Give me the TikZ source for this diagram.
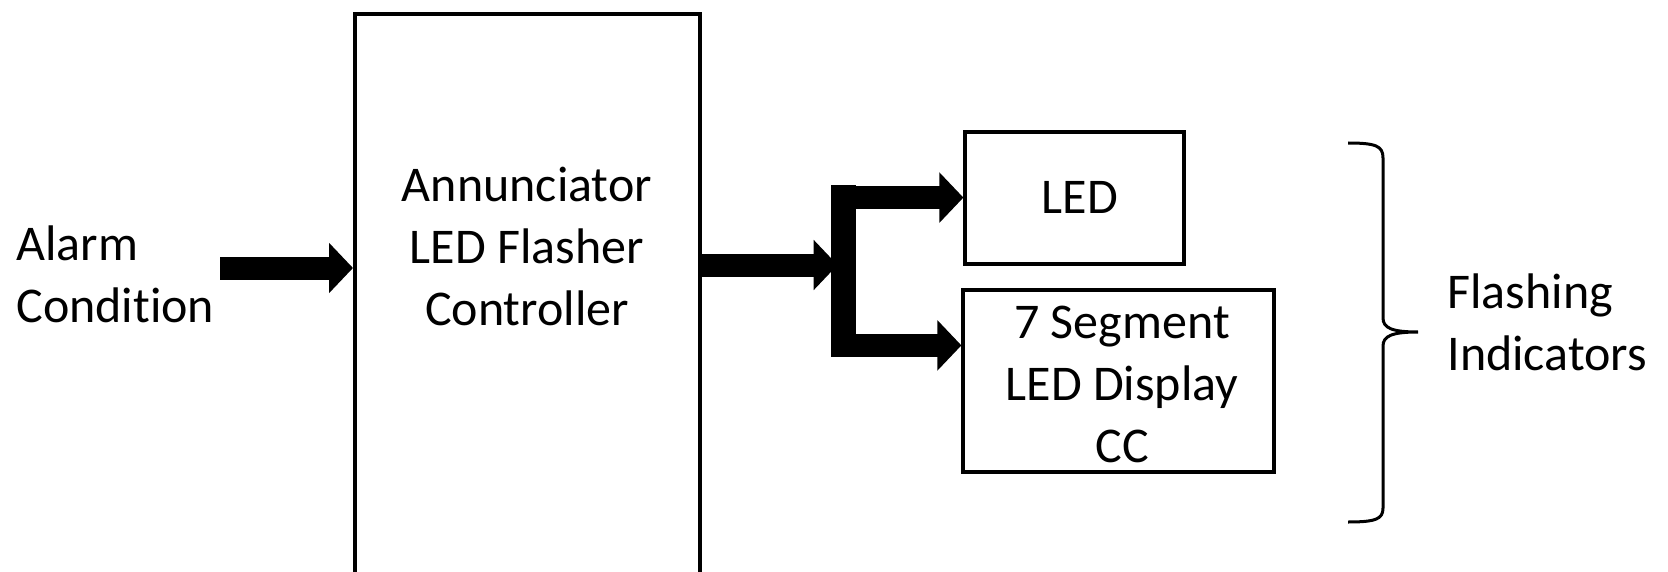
\documentclass[tikz,border=0pt]{standalone}
\usepackage{fontspec}
\setmainfont{Carlito}[Ligatures=NoCommon]
\usepackage{tikz}
\usetikzlibrary{arrows.meta,positioning}

\begin{document}
\begin{tikzpicture}[
    x=0.5pt, y=-0.5pt,
    box/.style={draw, line width=1.6pt, rectangle, inner sep=0pt},
    txt/.style={align=center, inner sep=0pt, font=\fontsize{25}{31}\selectfont},
    block arrow/.style={line width=11.5pt, -{Triangle[length=12pt,width=24.5pt]}}
]
    \useasboundingbox (0,0) rectangle (1668,572);
    \clip (0,0) rectangle (1668,572);

    % blocks
    \node[box, line width=2pt, minimum width=172.5pt, minimum height=303pt] (ctrl) at (527.5,316.75) {};
    \node[txt] (ctrltext) at (527,246) {Annunciator\\LED Flasher\\Controller};
    \node[box, minimum width=109.5pt, minimum height=66pt] (led) at (1074.5,198) {};
    \node[txt] (ledtext) at (1080,197) {LED};
    \node[box, minimum width=155.5pt, minimum height=91pt] (seg) at (1118.5,381) {};
    \node[txt] (segtext) at (1122,384) {7 Segment\\LED Display\\CC};
    \node[fill=black, inner sep=0pt, minimum width=12.5pt, minimum height=86pt] (bus) at (843.5,271) {};

    % side labels
    \node[txt, align=left, anchor=west] (alarm) at (16,274) {Alarm\\Condition};
    \node[txt, align=left, anchor=west] (flash) at (1447,322) {Flashing\\Indicators};

    % arrows
    \coordinate (in) at (220,268);
    \draw[block arrow] (in) -- (in -| ctrl.west);
    \coordinate (out) at (ctrl.east |- 0,265);
    \draw[block arrow] (out) -- ([xshift=3.5pt]out -| bus.west);
    \draw[block arrow] ([yshift=-6.5pt]bus.north east) -- ([yshift=-6.5pt]bus.north east -| led.west);
    \draw[block arrow] ([yshift=6pt]bus.south east) -- ([yshift=6pt]bus.south east -| seg.west);

    % brace
    \draw[line width=1.5pt] (1348,143) .. controls (1376,143) and (1383,146) .. (1383,158)
        -- (1383,318) .. controls (1383,328) and (1392,332) .. (1418,332)
        .. controls (1392,332) and (1383,336) .. (1383,346)
        -- (1383,508) .. controls (1383,519) and (1376,522) .. (1348,522);
\end{tikzpicture}
\end{document}
